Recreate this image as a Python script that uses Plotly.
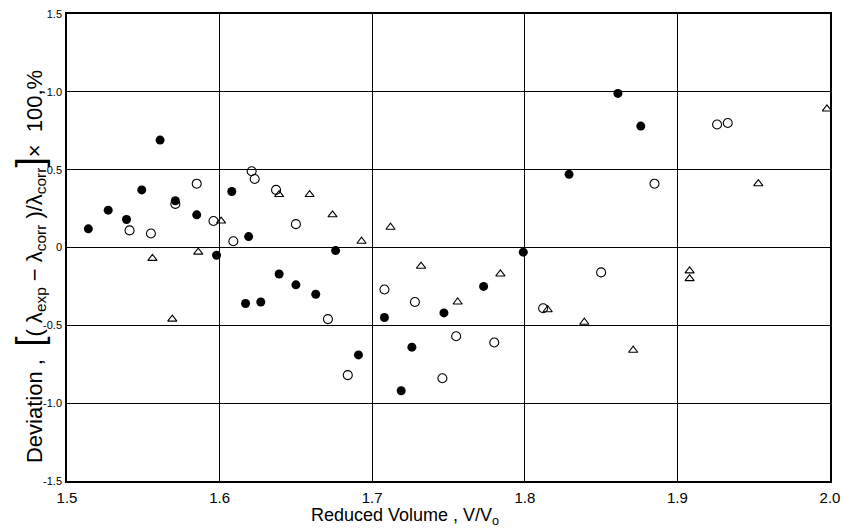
import plotly.graph_objects as go

# Filled circles
filled_x = [1.514, 1.527, 1.539, 1.549, 1.561, 1.571, 1.585, 1.598, 1.608, 1.619,
            1.617, 1.627, 1.639, 1.650, 1.663, 1.676, 1.691, 1.708, 1.719, 1.726,
            1.747, 1.773, 1.799, 1.829, 1.861, 1.876]
filled_y = [0.12, 0.24, 0.18, 0.37, 0.69, 0.30, 0.21, -0.05, 0.36, 0.07,
            -0.36, -0.35, -0.17, -0.24, -0.30, -0.02, -0.69, -0.45, -0.92, -0.64,
            -0.42, -0.25, -0.03, 0.47, 0.99, 0.78]

# Open circles
open_x = [1.541, 1.555, 1.571, 1.585, 1.596, 1.609, 1.621, 1.623, 1.637, 1.650,
          1.671, 1.684, 1.708, 1.728, 1.746, 1.755, 1.780, 1.812, 1.850, 1.885,
          1.926, 1.933]
open_y = [0.11, 0.09, 0.28, 0.41, 0.17, 0.04, 0.49, 0.44, 0.37, 0.15,
          -0.46, -0.82, -0.27, -0.35, -0.84, -0.57, -0.61, -0.39, -0.16, 0.41,
          0.79, 0.80]

# Triangles
tri_x = [1.556, 1.569, 1.586, 1.601, 1.639, 1.659, 1.674, 1.693, 1.712, 1.732,
         1.756, 1.784, 1.815, 1.839, 1.871, 1.908, 1.908, 1.953, 1.998]
tri_y = [-0.07, -0.46, -0.03, 0.17, 0.34, 0.34, 0.21, 0.04, 0.13, -0.12,
         -0.35, -0.17, -0.40, -0.48, -0.66, -0.15, -0.20, 0.41, 0.89]

x_ticks = [1.5, 1.6, 1.7, 1.8, 1.9, 2.0]
x_labels = ["1.5", "1.6", "1.7", "1.8", "1.9", "2.0"]
y_ticks = [-1.5, -1.0, -0.5, 0, 0.5, 1.0, 1.5]
y_labels = ["-1.5", "-1.0", "-0.5", "0", "0.5", "1.0", "1.5"]

FONT = "Liberation Sans"

fig = go.Figure()
fig.add_trace(go.Scatter(x=open_x, y=open_y, mode="markers", cliponaxis=False,
                         marker=dict(symbol="circle-open", size=9, color="black", line=dict(width=1.1))))
fig.add_trace(go.Scatter(x=tri_x, y=tri_y, mode="markers", cliponaxis=False,
                         marker=dict(symbol="triangle-up-open", size=8, color="black", line=dict(width=1.1))))
fig.add_trace(go.Scatter(x=filled_x, y=filled_y, mode="markers", cliponaxis=False,
                         marker=dict(symbol="circle", size=9, color="black")))

fig.update_layout(
    width=843, height=532,
    margin=dict(l=67, r=13, t=14, b=51, autoexpand=False),
    paper_bgcolor="white", plot_bgcolor="white",
    showlegend=False,
    font=dict(family=FONT, color="black", size=12),
    xaxis=dict(range=[1.5, 2.0], tickvals=x_ticks, ticktext=x_labels, automargin=False,
               showgrid=True, gridcolor="black", gridwidth=1.3,
               showline=True, linecolor="black", linewidth=1.5, mirror=True,
               zeroline=False, ticks="", tickfont=dict(size=15, family=FONT),
               ticklabeloverflow="allow", ticklabelstandoff=2),
    yaxis=dict(range=[-1.5, 1.5], tickvals=y_ticks, ticktext=y_labels, automargin=False,
               showgrid=True, gridcolor="black", gridwidth=1.3,
               showline=True, linecolor="black", linewidth=1.5, mirror=True,
               zeroline=False, ticks="", tickfont=dict(size=11, family=FONT),
               ticklabelstandoff=1, ticklabeloverflow="allow"),
)

fig.add_annotation(
    xref="paper", yref="paper", x=0.443, y=-0.077,
    text="Reduced Volume , V/V<sub>o</sub>",
    showarrow=False, font=dict(size=18, family=FONT, color="black"),
    xanchor="center", yanchor="middle",
)

fig.add_annotation(
    xref="paper", yref="paper", x=-0.05, y=0.46,
    text=("Deviation ,  <span style='font-size:37px'>[</span>( λ<sub>exp</sub> − λ<sub>corr</sub> )/λ<sub>corr</sub>"
          "<span style='font-size:37px'>]</span>×  100,%"),
    textangle=-90, showarrow=False, font=dict(size=22, family=FONT, color="black"),
    xanchor="center", yanchor="middle",
)

fig.write_html("out.html", config={"displayModeBar": False},
               post_script="document.body.style.margin='0';document.body.style.overflow='hidden';")
